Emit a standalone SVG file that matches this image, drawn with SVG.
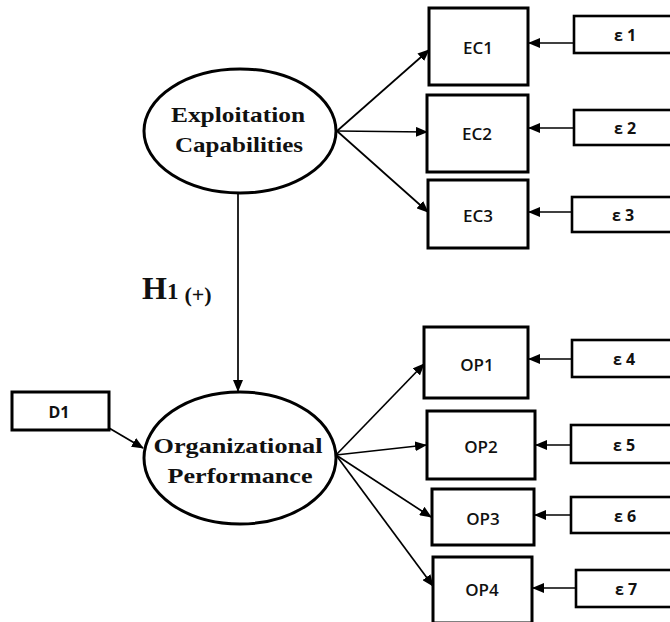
<svg xmlns="http://www.w3.org/2000/svg" width="670" height="622" viewBox="0 0 670 622">
<defs>
<marker id="ah" markerUnits="userSpaceOnUse" markerWidth="12" markerHeight="10" refX="11" refY="5" orient="auto">
<path d="M0,0 L12,5 L0,10 Z" fill="#000"/>
</marker>
<style>
.lat{fill:#fff;stroke:#000;stroke-width:3}
.box{fill:#fff;stroke:#000;stroke-width:3}
.err{fill:#fff;stroke:#000;stroke-width:2.6}
.con line{stroke:#000;stroke-width:1.7;marker-end:url(#ah)}
.lt{font-family:"Liberation Serif","Times New Roman",serif;font-weight:bold;font-size:22px;fill:#111;text-anchor:middle}
.bt{font-family:"Open Sans","Liberation Sans",sans-serif;font-weight:600;font-size:17px;fill:#111;text-anchor:middle;dominant-baseline:central}
.et{font-family:"Open Sans","Liberation Sans",sans-serif;font-weight:bold;font-size:16px;fill:#111;text-anchor:middle;dominant-baseline:central}
</style>
</defs>
<rect width="670" height="622" fill="#fff"/>
<g id="connectors" class="con">
<line x1="337" y1="131" x2="429" y2="50"/>
<line x1="337" y1="131" x2="427" y2="132"/>
<line x1="337" y1="131" x2="428" y2="212"/>
<line x1="238" y1="193" x2="238" y2="391"/>
<line x1="109" y1="428" x2="143" y2="448"/>
<line x1="336" y1="455" x2="424" y2="364"/>
<line x1="336" y1="455" x2="426" y2="445"/>
<line x1="336" y1="455" x2="431" y2="517"/>
<line x1="336" y1="455" x2="433" y2="586"/>
<line x1="574" y1="43" x2="529" y2="43"/>
<line x1="574" y1="128" x2="529" y2="128"/>
<line x1="572" y1="212" x2="529" y2="212"/>
<line x1="572" y1="359" x2="529" y2="359"/>
<line x1="571" y1="445" x2="536" y2="445"/>
<line x1="571" y1="515" x2="535" y2="515"/>
<line x1="576" y1="588" x2="533" y2="588"/>
</g>
<g id="exploitation">
<ellipse class="lat" cx="240" cy="131" rx="96" ry="62"/>
<text class="lt" x="238" y="122" textLength="134" lengthAdjust="spacingAndGlyphs">Exploitation</text>
<text class="lt" x="239" y="152" textLength="128" lengthAdjust="spacingAndGlyphs">Capabilities</text>
</g>
<g id="performance">
<ellipse class="lat" cx="240" cy="458" rx="96" ry="66"/>
<text class="lt" x="238" y="453" textLength="169" lengthAdjust="spacingAndGlyphs">Organizational</text>
<text class="lt" x="240" y="483" textLength="145" lengthAdjust="spacingAndGlyphs">Performance</text>
</g>
<g id="h1label">
<text x="142" y="299" font-family="'Liberation Serif','Times New Roman',serif" font-weight="bold" fill="#111"><tspan font-size="32">H</tspan><tspan font-size="23">1</tspan><tspan font-size="22" dx="6" dy="3">(+)</tspan></text>
</g>
<g id="D1"><rect class="box" x="12" y="392" width="97" height="38"/><text class="et" x="59" y="412">D1</text></g>
<g id="EC1"><rect class="box" x="429" y="8" width="99" height="77"/><text class="bt" x="478" y="47">EC1</text></g>
<g id="EC2"><rect class="box" x="427" y="95" width="101" height="77"/><text class="bt" x="477" y="133">EC2</text></g>
<g id="EC3"><rect class="box" x="428" y="180" width="100" height="68"/><text class="bt" x="478" y="215">EC3</text></g>
<g id="OP1"><rect class="box" x="424" y="327" width="104" height="71"/><text class="bt" x="477" y="364">OP1</text></g>
<g id="OP2"><rect class="box" x="427" y="411" width="108" height="68"/><text class="bt" x="481" y="446">OP2</text></g>
<g id="OP3"><rect class="box" x="432" y="489" width="102" height="56"/><text class="bt" x="483" y="518">OP3</text></g>
<g id="OP4"><rect class="box" x="433" y="557" width="99" height="66"/><text class="bt" x="482" y="589" font-weight="normal">OP4</text></g>
<g id="e1"><rect class="err" x="574" y="16" width="110" height="37"/><text class="et" x="625" y="35">ε 1</text></g>
<g id="e2"><rect class="err" x="574" y="110" width="110" height="35"/><text class="et" x="625" y="128">ε 2</text></g>
<g id="e3"><rect class="err" x="572" y="197" width="110" height="35"/><text class="et" x="623" y="215">ε 3</text></g>
<g id="e4"><rect class="err" x="572" y="340" width="110" height="37"/><text class="et" x="624" y="359">ε 4</text></g>
<g id="e5"><rect class="err" x="571" y="425" width="110" height="38"/><text class="et" x="624" y="445">ε 5</text></g>
<g id="e6"><rect class="err" x="571" y="497" width="110" height="36"/><text class="et" x="625" y="516">ε 6</text></g>
<g id="e7"><rect class="err" x="576" y="570" width="110" height="37"/><text class="et" x="626" y="589">ε 7</text></g>
</svg>
